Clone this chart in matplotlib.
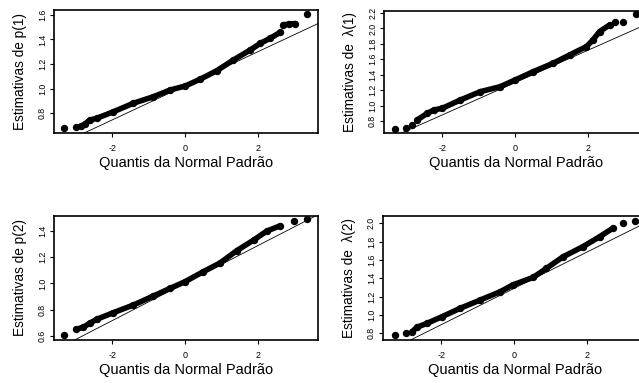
import matplotlib
matplotlib.use('Agg')
import matplotlib.pyplot as plt
import numpy as np

plt.rcParams['font.family'] = ['Liberation Sans', 'DejaVu Sans']
plt.rcParams['axes.unicode_minus'] = False

# pontos (quantil normal, estimativa)
p1_q = [-3.33, -3.0, -2.85, -2.75, -2.62, -2.43, -1.97, -1.42, -0.87, -0.41, 0.0,
        0.41, 0.87, 1.33, 1.79, 2.07, 2.34, 2.62, 2.7, 2.85, 3.03, 3.35]
p1_v = [0.675, 0.683, 0.694, 0.71, 0.743, 0.757, 0.81, 0.88, 0.933, 0.988, 1.02,
        1.075, 1.145, 1.233, 1.314, 1.369, 1.41, 1.459, 1.52, 1.525, 1.53, 1.61]

l1_q = [-3.31, -3.0, -2.82, -2.69, -2.41, -2.23, -2.0, -1.5, -0.96, -0.41, 0.0,
        0.5, 1.05, 1.5, 1.96, 2.14, 2.32, 2.6, 2.73, 2.95, 3.32]
l1_v = [0.696, 0.713, 0.748, 0.813, 0.9, 0.943, 0.965, 1.073, 1.18, 1.245, 1.332,
        1.44, 1.55, 1.657, 1.765, 1.852, 1.96, 2.047, 2.086, 2.086, 2.186]

p2_q = [-3.33, -3.0, -2.8, -2.62, -2.43, -1.97, -1.42, -0.87, -0.41, 0.0,
        0.5, 0.96, 1.42, 1.88, 2.25, 2.62, 2.98, 3.35]
p2_v = [0.608, 0.651, 0.666, 0.697, 0.727, 0.778, 0.836, 0.905, 0.963, 1.014,
        1.09, 1.156, 1.25, 1.33, 1.40, 1.44, 1.474, 1.49]

l2_q = [-3.28, -2.98, -2.8, -2.67, -2.39, -1.98, -1.48, -0.93, -0.38, -0.04,
        0.53, 0.89, 1.35, 1.89, 2.35, 2.71, 3.0, 3.33]
l2_v = [0.781, 0.807, 0.818, 0.866, 0.909, 0.981, 1.073, 1.163, 1.254, 1.327,
        1.411, 1.509, 1.636, 1.745, 1.854, 1.946, 2.0, 2.03]

# trechos onde os pontos ficam colados (indices)
faixas = [[(2, 18), (18, 21)], [(3, 18)], [(1, 16)], [(2, 16)]]

# retas de referencia (intercepto, inclinacao)
linhas = [(1.022, 0.139), (1.298, 0.2096), (1.003, 0.1427), (1.29, 0.198)]

ylabels = ['Estimativas de p(1)', 'Estimativas de  λ(1)',
           'Estimativas de p(2)', 'Estimativas de  λ(2)']
yticks = [[0.8, 1.0, 1.2, 1.4, 1.6],
          [0.8, 1.0, 1.2, 1.4, 1.6, 1.8, 2.0, 2.2],
          [0.6, 0.8, 1.0, 1.2, 1.4],
          [0.8, 1.0, 1.2, 1.4, 1.6, 1.8, 2.0]]
ylims = [(0.637, 1.64), (0.644, 2.23), (0.57, 1.514), (0.727, 2.08)]
xticks = [-2, 0, 2]


def painel(fig, pos, q, v, faixa, linha, ylabel, yt, ylim):
    ax = fig.add_axes(pos)
    for i, j in faixa:
        ax.plot(q[i:j], v[i:j], '-', color='black', lw=4.0, solid_capstyle='round')
    ax.plot(q, v, 'o', color='black', ms=4.3)
    a, b = linha
    ax.axline((0, a), slope=b, color='black', lw=0.6)
    ax.set_xlim(-3.6, 3.65)
    ax.set_ylim(*ylim)
    ax.set_xticks(xticks)
    ax.set_xticklabels([str(t) for t in xticks], fontsize=6.5)
    ax.set_yticks(yt)
    ax.set_yticklabels(['%.1f' % t for t in yt], fontsize=6.3, rotation=90, va='center')
    ax.tick_params(length=3, width=0.8, color='black')
    ax.tick_params(axis='x', pad=5)
    ax.tick_params(axis='y', pad=2)
    for s in ax.spines.values():
        s.set_linewidth(1.2)
    ax.set_xlabel('Quantis da Normal Padrão', fontsize=10.5)
    ax.set_ylabel(ylabel, fontsize=9.8)
    h = pos[3] * 383
    ax.xaxis.set_label_coords(0.5, -23.0 / h)
    ax.yaxis.set_label_coords(-34.0 / 264, 0.5)
    ax.yaxis.label.set_va('center')
    return ax


def main():
    fig = plt.figure(figsize=(6.39, 3.83), dpi=100)
    w = 0.4131
    painel(fig, [0.0845, 0.6527, w, 0.3211], p1_q, p1_v, faixas[0], linhas[0], ylabels[0], yticks[0], ylims[0])
    painel(fig, [0.601, 0.6527, w, 0.3193], l1_q, l1_v, faixas[1], linhas[1], ylabels[1], yticks[1], ylims[1])
    painel(fig, [0.0845, 0.1123, w, 0.3238], p2_q, p2_v, faixas[2], linhas[2], ylabels[2], yticks[2], ylims[2])
    painel(fig, [0.5994, 0.1123, w, 0.3238], l2_q, l2_v, faixas[3], linhas[3], ylabels[3], yticks[3], ylims[3])
    fig.savefig('out.png', dpi=100)


if __name__ == "__main__":
    main()
